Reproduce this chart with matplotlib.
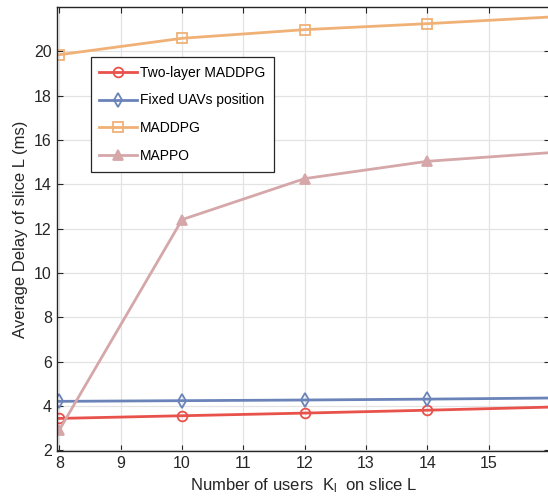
import matplotlib
matplotlib.use("Agg")
import matplotlib.pyplot as plt

plt.rcParams["font.family"] = ["Liberation Sans", "DejaVu Sans"]
plt.rcParams["mathtext.default"] = "regular"

users = [8, 10, 12, 14, 16]
two_layer = [3.44, 3.56, 3.68, 3.81, 3.95]
fixed_uav = [4.21, 4.24, 4.27, 4.31, 4.36]
maddpg = [19.85, 20.59, 20.98, 21.25, 21.55]
mappo = [2.93, 12.41, 14.26, 15.04, 15.43]

series = [
    ("Two-layer MADDPG", two_layer, "#e8524b", "o", "none"),
    ("Fixed UAVs position", fixed_uav, "#6a83b9", "d", "none"),
    ("MADDPG", maddpg, "#f0b177", "s", "none"),
    ("MAPPO", mappo, "#d5a7a9", "^", "#d5a7a9"),
]

fig = plt.figure(figsize=(5.48, 5.03), dpi=100)
ax = fig.add_axes([0.1035, 0.1034, 0.9, 0.8826])

# the right edge of the original is cropped, so the last marker is not shown
for label, vals, color, marker, face in series:
    ax.plot(users, vals, color=color, marker=marker, markerfacecolor=face,
            markeredgecolor=color, markersize=7, markeredgewidth=1.3,
            linewidth=2, label=label, markevery=[0, 1, 2, 3])

ax.set_xlim(7.955, 16)
ax.set_ylim(1.97, 22)
ax.set_xticks(range(8, 16))
ax.set_yticks(range(2, 21, 2))
ax.grid(True, color="#e3e3e3", linewidth=0.9)
ax.set_axisbelow(True)
ax.tick_params(direction="in", top=True, right=True, labelsize=11.5, length=4,
               color="#262626", labelcolor="#262626")
for s in ax.spines.values():
    s.set_color("#262626")
    s.set_linewidth(1.0)

ax.set_xlabel("Number of users  K$_l$  on slice L", fontsize=12, color="#262626")
ax.set_ylabel("Average Delay of slice L (ms)", fontsize=12, color="#262626")

leg = ax.legend(loc="upper left", bbox_to_anchor=(0.0696, 0.887), fontsize=10,
                fancybox=False, edgecolor="#262626", framealpha=1,
                borderaxespad=0, handlelength=2.7, borderpad=0.6,
                labelspacing=1.0, handletextpad=0.25)
leg.get_frame().set_linewidth(0.9)

fig.savefig("out.png", dpi=100)
